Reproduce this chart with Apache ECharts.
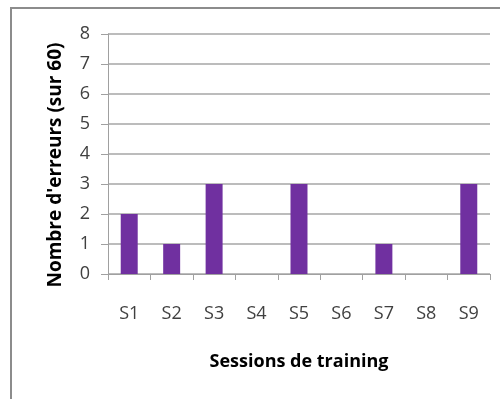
<!DOCTYPE html>
<html><head><meta charset="utf-8">
<script src="https://cdn.jsdelivr.net/npm/echarts@6/dist/echarts.min.js"></script>
<style>html,body{margin:0;padding:0;background:#fff}#c{width:500px;height:399px}</style>
</head><body><div id="c"></div>
<script>
const categories = ['S1','S2','S3','S4','S5','S6','S7','S8','S9'];
const errors = [2,1,3,0,3,0,1,0,3];
const yTicks = [0,1,2,3,4,5,6,7,8];
const yTitle = "Nombre d'erreurs (sur 60)";
const xTitle = 'Sessions de training';

const chart = echarts.init(document.getElementById('c'), null, {renderer:'canvas'});
chart.setOption({
  animation:false,
  backgroundColor:'#fff',
  graphic:[
    {type:'rect',shape:{x:11,y:8,width:520,height:420},style:{fill:'none',stroke:'#8c8c8c',lineWidth:2},silent:true},
    {type:'text',x:56,y:165,rotation:Math.PI/2,
     style:{text:yTitle,fontFamily:'Open Sans',fontWeight:'bold',fontSize:19,fill:'#000',align:'center',verticalAlign:'middle'}}
  ],
  grid:{left:108,right:10,top:34,bottom:125},
  xAxis:{type:'category',data:categories,
    axisLine:{lineStyle:{color:'#a0a0a0',width:1}},
    axisTick:{show:true,alignWithLabel:false,length:6,lineStyle:{color:'#a0a0a0'}},
    axisLabel:{margin:31,fontFamily:'Open Sans',fontSize:18,color:'#404040'},
    name:xTitle,nameLocation:'middle',nameGap:79,
    nameTextStyle:{fontFamily:'Open Sans',fontWeight:'bold',fontSize:18,color:'#000'}},
  yAxis:{type:'value',min:yTicks[0],max:yTicks[yTicks.length-1],interval:1,
    axisLine:{show:true,lineStyle:{color:'#a0a0a0',width:1}},
    axisTick:{show:true,length:7,lineStyle:{color:'#a0a0a0'}},
    splitLine:{lineStyle:{color:'#a6a6a6',width:1.5}},
    axisLabel:{margin:18,fontFamily:'Open Sans',fontSize:18,color:'#404040'}},
  series:[{type:'bar',data:errors,barWidth:'40%',itemStyle:{color:'#7030A0'}}]
});
</script></body></html>
